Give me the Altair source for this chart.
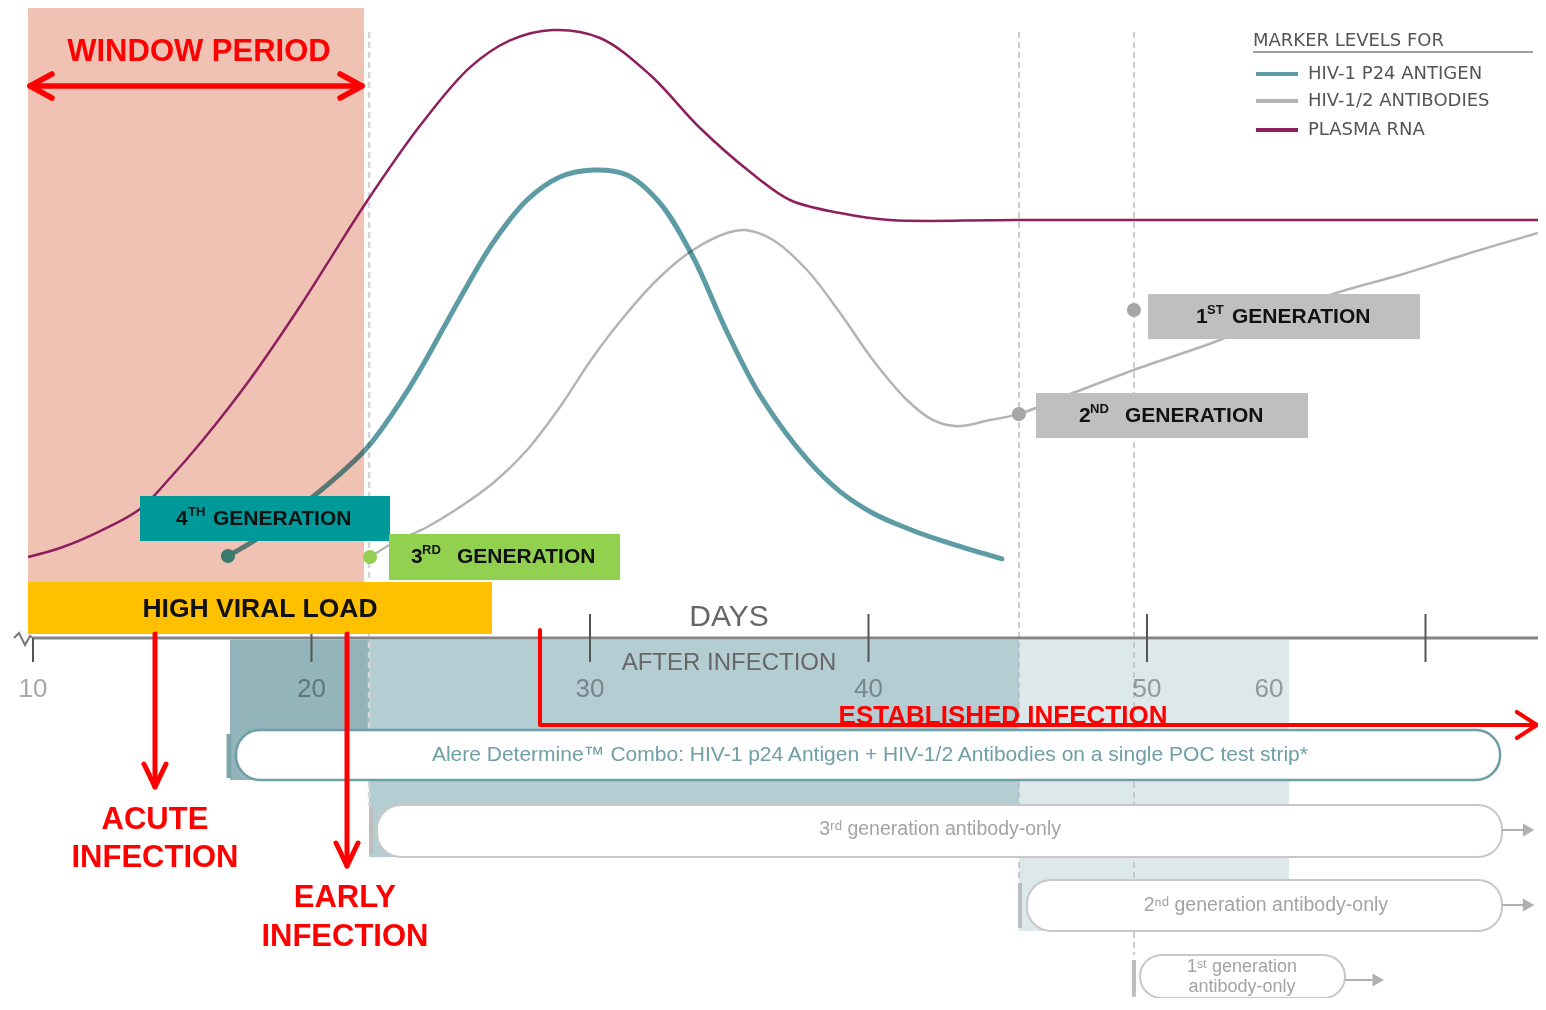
import altair as alt
import pandas as pd

# ---------------- data (days after infection, marker level in arbitrary units) ----------------
RNA_DAY = [9.82, 10.97, 12.41, 13.84, 14.92, 16.10, 17.79, 19.59, 20.66, 21.92, 23.90, 25.69,
           27.13, 28.67, 30.36, 32.16, 33.95, 35.75, 37.18, 38.98, 40.77, 45.40, 64.04]
RNA_LEVEL = [13.5, 15.0, 17.83, 21.5, 26.67, 33.0, 43.1, 55.3, 63.1, 72.3, 85.4, 95.1,
             99.6, 101.33, 100.0, 93.83, 85.0, 77.67, 73.0, 70.83, 69.67, 69.67, 69.67]

P24_DAY = [17.00, 18.15, 19.12, 20.77, 21.99, 23.54, 25.33, 26.52, 27.74, 28.92, 30.11, 31.33,
           32.51, 33.70, 34.92, 36.10, 37.79, 38.98, 40.16, 41.38, 42.57, 43.75, 44.79]
P24_LEVEL = [13.67, 16.83, 20.17, 26.33, 31.67, 41.9, 56.6, 65.9, 73.0, 76.83, 78.0, 77.17,
             72.5, 63.5, 51.0, 40.5, 29.8, 24.4, 20.8, 18.3, 16.3, 14.6, 13.2]

AB_DAY = [22.10, 22.93, 24.15, 25.33, 26.52, 27.74, 28.92, 30.11, 31.33, 32.51, 33.70, 34.92,
          35.57, 36.57, 37.79, 38.98, 40.16, 41.38, 42.32, 43.18, 44.36, 45.40, 47.34, 49.53,
          52.62, 54.06, 56.57, 59.08, 61.60, 64.04]
AB_LEVEL = [13.5, 15.83, 18.5, 21.83, 25.83, 31.33, 38.5, 46.83, 54.17, 60.17, 64.67, 67.5,
            68.0, 66.33, 61.33, 54.17, 46.33, 39.67, 36.3, 35.3, 36.33, 37.33, 40.83, 44.67,
            49.67, 52.5, 57.17, 60.5, 64.17, 67.5]

DETECT_GEN = ["4th", "3rd", "2nd", "1st"]
DETECT_DAY = [17.0, 22.10, 45.40, 49.53]
DETECT_LEVEL = [13.67, 13.5, 37.33, 54.67]
DETECT_COLOR = ["#3D7A6E", "#92D050", "#A6A6A6", "#A6A6A6"]

TICK_DAYS = [10, 20, 30, 40, 50, 60]
TICK_LABELS = ["10", "20", "30", "40", "50", "60"]
TICK_LABEL_DAYS = [10, 20, 30, 40, 50, 54.38]

SERIES = ["HIV-1 P24 ANTIGEN", "HIV-1/2 ANTIBODIES", "PLASMA RNA"]
SERIES_COLOR = ["#5E9CA5", "#B4B4B4", "#8E1F5E"]

# ---------------- scales ----------------
X0 = 10 - 25 / 27.85
X1 = 10 + 1505 / 27.85
XS = alt.Scale(domain=[X0, X1], nice=False, zero=False)
YS = alt.Scale(domain=[-60, 105], nice=False, zero=False)


def X(f="x"):
    return alt.X(f"{f}:Q", scale=XS, axis=None)


def Y(f="y"):
    return alt.Y(f"{f}:Q", scale=YS, axis=None)


def rects(rows, **mark):
    df = pd.DataFrame(rows, columns=["x", "x2", "y", "y2", "c"])
    return alt.Chart(df).mark_rect(**mark).encode(
        x=X(), x2="x2:Q", y=Y(), y2="y2:Q", color=alt.Color("c:N", scale=None))


def rules(rows, **mark):
    df = pd.DataFrame(rows, columns=["x", "x2", "y", "y2", "c", "w"])
    return alt.Chart(df).mark_rule(**mark).encode(
        x=X(), x2="x2:Q", y=Y(), y2="y2:Q",
        color=alt.Color("c:N", scale=None),
        strokeWidth=alt.StrokeWidth("w:Q", scale=None))


def polylines(rows, **mark):
    df = pd.DataFrame(rows, columns=["id", "o", "x", "y", "c", "w"])
    return alt.Chart(df).mark_line(**mark).encode(
        x=X(), y=Y(), detail="id:N", order="o:Q",
        color=alt.Color("c:N", scale=None),
        strokeWidth=alt.StrokeWidth("w:Q", scale=None))


def texts(rows, font="Liberation Sans", weight="normal", align="center", baseline="middle", **mark):
    df = pd.DataFrame(rows, columns=["x", "y", "t", "s", "c"])
    return alt.Chart(df).mark_text(font=font, fontWeight=weight, align=align, baseline=baseline,
                                   **mark).encode(
        x=X(), y=Y(), text="t:N",
        size=alt.Size("s:Q", scale=None), color=alt.Color("c:N", scale=None))


layers = []

# window period + shaded test-availability regions
layers.append(rects([(9.82, 21.885, 9.33, 105, "#F0C2B4")]))
layers.append(rects([(17.074, 22.065, -0.3, -23.67, "#92B4BA"),
                     (22.065, 45.404, -0.3, -36.5, "#B4CDD2"),
                     (45.404, 55.097, -0.3, -48.83, "#DDE8EA")]))

# dashed guide lines
layers.append(rules([(22.065, 22.065, 101, -27.83, "#D5D5D5", 2.5),
                     (45.404, 45.404, 101, -40.33, "#BDBDBD", 1.5),
                     (49.533, 49.533, 101, -52.83, "#BDBDBD", 1.5)], strokeDash=[6, 4]))

# marker curves
rna = pd.DataFrame({"x": RNA_DAY, "y": RNA_LEVEL})
ab = pd.DataFrame({"x": AB_DAY, "y": AB_LEVEL})
p24 = pd.DataFrame({"x": P24_DAY, "y": P24_LEVEL})
layers.append(alt.Chart(rna).mark_line(interpolate="catmull-rom", color=SERIES_COLOR[2], strokeWidth=2.5)
              .encode(x=X(), y=Y()))
layers.append(alt.Chart(ab).mark_line(interpolate="catmull-rom", color=SERIES_COLOR[1], strokeWidth=2.5,
                                      blend="multiply").encode(x=X(), y=Y()))
layers.append(alt.Chart(p24).mark_line(interpolate="catmull-rom", color=SERIES_COLOR[0], strokeWidth=5,
                                       strokeCap="round", blend="multiply").encode(x=X(), y=Y()))

# detection points
dots = pd.DataFrame({"g": DETECT_GEN, "x": DETECT_DAY, "y": DETECT_LEVEL, "c": DETECT_COLOR})
layers.append(alt.Chart(dots).mark_circle(size=200, opacity=1).encode(
    x=X(), y=Y(), color=alt.Color("c:N", scale=None)))

# generation label boxes
layers.append(rects([(13.842, 22.819, 16.17, 23.67, "#009999"),
                     (22.783, 31.077, 9.67, 17.33, "#92D050"),
                     (50.036, 59.803, 49.83, 57.33, "#BFBFBF"),
                     (46.014, 55.781, 33.33, 40.83, "#BFBFBF")]))
BLK = "#111111"
layers.append(texts([(15.135, 19.83, "4", 21, BLK), (16.463, 19.83, "GENERATION", 21, BLK),
                     (23.573, 13.5, "3", 21, BLK), (25.224, 13.5, "GENERATION", 21, BLK),
                     (51.759, 53.5, "1", 21, BLK), (53.052, 53.5, "GENERATION", 21, BLK),
                     (47.558, 37.0, "2", 21, BLK), (49.210, 37.0, "GENERATION", 21, BLK)],
                    weight="bold", align="left"))
layers.append(texts([(15.566, 21.0, "TH", 13, BLK), (23.968, 14.6, "RD", 13, BLK),
                     (52.154, 54.6, "ST", 13, BLK), (47.953, 38.1, "ND", 13, BLK)],
                    weight="bold", align="left"))

# axis line, break mark and ticks
layers.append(rules([(10, X1, 0, 0, "#858585", 3)]))
layers.append(polylines([("sq", 0, 9.318, 0, "#777777", 2), ("sq", 1, 9.497, 0.83, "#777777", 2),
                         ("sq", 2, 9.713, -1.17, "#777777", 2), ("sq", 3, 9.892, 0.33, "#777777", 2),
                         ("sq", 4, 10.0, 0, "#777777", 2)]))
ticks = pd.DataFrame({"x": TICK_DAYS, "y": [0, 4, 4, 4, 4, 4], "y2": [-4] * 6})
layers.append(alt.Chart(ticks).mark_rule(color="#555555", strokeWidth=2).encode(x=X(), y=Y(), y2="y2:Q"))

# high viral load bar
layers.append(rects([(9.82, 26.48, 0.67, 9.33, "#FFC000")]))
layers.append(texts([(18.15, 4.83, "HIGH VIRAL LOAD", 26.5, BLK)], weight="bold"))

# tick labels and axis title
tl = pd.DataFrame({"x": TICK_LABEL_DAYS, "y": [-8.5] * 6, "t": TICK_LABELS,
                   "s": [26] * 6, "c": ["#A8A8A8"] * 6})
layers.append(texts(list(tl.itertuples(index=False, name=None)), blend="multiply"))
layers.append(texts([(34.99, 3.5, "DAYS", 30, "#666666"),
                     (34.99, -4.17, "AFTER INFECTION", 24, "#666666")]))

# test strips
bars = pd.DataFrame([(17.289, 62.675, -15.33, -23.67, "#6E9EA6", 2.5),
                     (22.352, 62.747, -27.83, -36.5, "#C8C8C8", 2),
                     (45.691, 62.747, -40.33, -48.83, "#C8C8C8", 2),
                     (49.749, 57.110, -52.83, -60.0, "#C8C8C8", 2)],
                    columns=["x", "x2", "y", "y2", "s", "w"])
layers.append(alt.Chart(bars).mark_rect(fill="white", cornerRadius=24).encode(
    x=X(), x2="x2:Q", y=Y(), y2="y2:Q",
    stroke=alt.Stroke("s:N", scale=None), strokeWidth=alt.StrokeWidth("w:Q", scale=None)))
layers.append(rules([(17.038, 17.038, -16.0, -23.33, "#7FA7AE", 5),
                     (22.136, 22.136, -28.33, -36.0, "#BDBDBD", 4),
                     (45.44, 45.44, -40.83, -48.33, "#BDBDBD", 4),
                     (49.53, 49.53, -53.67, -59.8, "#BDBDBD", 4),
                     (62.747, 63.5, -32, -32, "#B0B0B0", 2),
                     (62.747, 63.5, -44.5, -44.5, "#B0B0B0", 2),
                     (57.11, 58.1, -57, -57, "#B0B0B0", 2)]))
heads = pd.DataFrame({"x": [63.7, 63.7, 58.3], "y": [-32, -44.5, -57]})
layers.append(alt.Chart(heads).mark_point(shape="triangle-right", filled=True, size=170,
                                          color="#B0B0B0", opacity=1).encode(x=X(), y=Y()))
TEAL = "#6E9EA6"
GR = "#A3A3A3"
layers.append(texts([(40.05, -19.5,
                      "Alere Determine\u2122 Combo: HIV-1 p24 Antigen + HIV-1/2 Antibodies on a single POC test strip*",
                      21, TEAL),
                     (42.57, -31.83, "3\u02b3\u1d48 generation antibody-only", 19.5, GR),
                     (54.27, -44.5, "2\u207f\u1d48 generation antibody-only", 19.5, GR),
                     (53.41, -54.9, "1\u02e2\u1d57 generation", 18, GR),
                     (53.41, -58.1, "antibody-only", 18, GR)]))

# red annotations
RED = "#FF0000"
layers.append(texts([(44.83, -13.0, "ESTABLISHED INFECTION", 26, RED)], weight="bold"))
red_rows = [
    ("wp", 0, 9.892, 92, RED, 5.5), ("wp", 1, 21.813, 92, RED, 5.5),
    ("wl", 0, 10.682, 94, RED, 5.5), ("wl", 1, 9.892, 92, RED, 5.5), ("wl", 2, 10.682, 90, RED, 5.5),
    ("wr", 0, 21.023, 94, RED, 5.5), ("wr", 1, 21.813, 92, RED, 5.5), ("wr", 2, 21.023, 90, RED, 5.5),
    ("ac", 0, 14.381, 0.67, RED, 5), ("ac", 1, 14.381, -24.83, RED, 5),
    ("ach", 0, 13.986, -21.0, RED, 5), ("ach", 1, 14.381, -24.83, RED, 5), ("ach", 2, 14.776, -21.0, RED, 5),
    ("ea", 0, 21.275, 0.67, RED, 5), ("ea", 1, 21.275, -38.0, RED, 5),
    ("eah", 0, 20.88, -34.17, RED, 5), ("eah", 1, 21.275, -38.0, RED, 5), ("eah", 2, 21.67, -34.17, RED, 5),
    ("es", 0, 28.205, 1.33, RED, 4), ("es", 1, 28.205, -14.5, RED, 4), ("es", 2, 64.0, -14.5, RED, 4),
    ("esh", 0, 63.28, -12.33, RED, 4), ("esh", 1, 64.0, -14.5, RED, 4), ("esh", 2, 63.28, -16.67, RED, 4),
]
layers.append(polylines(red_rows, strokeCap="round", strokeJoin="round"))
layers.append(texts([(15.96, 97.67, "WINDOW PERIOD", 31, RED),
                     (14.38, -30.33, "ACUTE", 31, RED), (14.38, -36.67, "INFECTION", 31, RED),
                     (21.20, -43.33, "EARLY", 31, RED), (21.20, -49.83, "INFECTION", 31, RED)],
                    weight="bold"))

# legend
LEG_Y = [94, 89.5, 84.67]
leg = pd.DataFrame({"x": [53.914] * 3, "x2": [55.422] * 3, "y": LEG_Y, "y2": LEG_Y,
                    "c": SERIES_COLOR, "w": [4] * 3})
layers.append(rules(list(leg.itertuples(index=False, name=None))))
layers.append(rules([(53.806, 63.86, 97.67, 97.67, "#808080", 1.5)]))
layers.append(texts([(53.806, 99.5, "MARKER LEVELS FOR", 18, "#555555")] +
                    [(55.781, yy, s, 18, "#555555") for yy, s in zip(LEG_Y, SERIES)],
                    font="DejaVu Sans", align="left"))

chart = alt.layer(*layers).properties(
    width=1530, height=990, padding=0,
    autosize=alt.AutoSizeParams(type="none"),
    background="white",
).configure_view(strokeWidth=0)

chart.save("out.html", embed_options={"renderer": "svg", "actions": False})
